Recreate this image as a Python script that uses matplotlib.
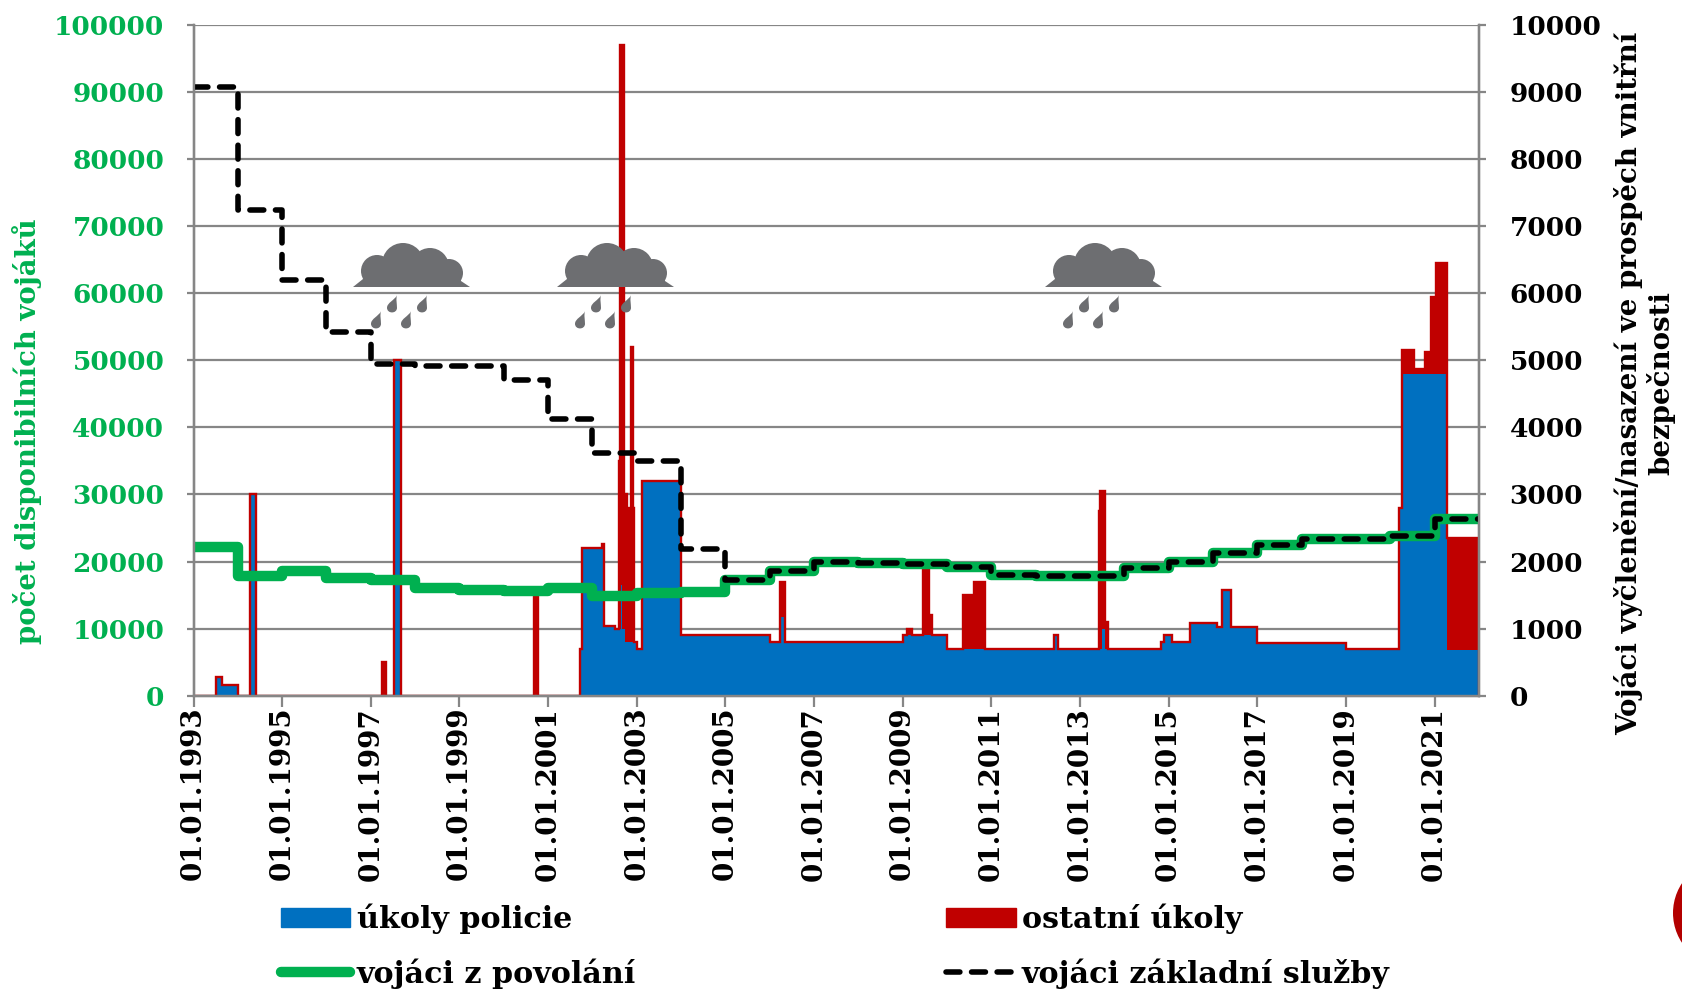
import numpy as np
import matplotlib
matplotlib.use('Agg')
import matplotlib.pyplot as plt
from matplotlib.patches import Ellipse, PathPatch, Rectangle, Polygon
from matplotlib.path import Path
from matplotlib.transforms import Affine2D

# Deployed soldiers (right axis), step edges in years
police_edges = [1993, 1993.5, 1993.64, 1994, 1994.28, 1994.41, 1997.53, 1997.69, 2001.72, 2001.76,
                2002.25, 2002.51, 2002.64, 2002.67, 2002.74, 2003.0, 2003.12, 2004.0, 2006.0, 2006.24,
                2006.35, 2009.0, 2010.0, 2012.42, 2012.51, 2013.49, 2013.56, 2014.83, 2014.9, 2015.08,
                2015.48, 2016.08, 2016.21, 2016.4, 2017, 2019, 2020.2, 2020.26, 2021.27, 2022]
police_values = [0, 280, 160, 0, 3000, 0, 5000, 0, 700, 2200,
                 1040, 1000, 1650, 1000, 800, 700, 3200, 900, 800, 1180,
                 800, 900, 700, 900, 700, 1000, 700, 800, 900, 800,
                 1080, 1030, 1580, 1030, 780, 700, 2800, 4800, 680]

# Top of the stack: police tasks + other tasks
total_edges = [1993, 1993.5, 1993.64, 1994, 1994.28, 1994.41, 1997.26, 1997.35, 1997.53, 1997.69,
               2000.69, 2000.78, 2001.72, 2001.76, 2002.21, 2002.27, 2002.51, 2002.6, 2002.63, 2002.71, 2002.77,
               2002.87, 2002.92, 2002.94, 2003.0, 2003.12, 2004.0, 2006.0, 2006.24, 2006.35, 2009.0,
               2009.1, 2009.2, 2009.46, 2009.6, 2009.67, 2010.0, 2010.37, 2010.6, 2010.85, 2012.42,
               2012.51, 2013.43, 2013.46, 2013.56, 2013.62, 2014.83, 2014.9, 2015.08, 2015.48, 2016.08,
               2016.21, 2016.4, 2017, 2019, 2020.2, 2020.26, 2020.53, 2020.78, 2020.91, 2021.02,
               2021.27, 2022]
total_values = [0, 280, 160, 0, 3000, 0, 500, 0, 5000, 0,
                1570, 0, 700, 2200, 2260, 1040, 1000, 3500, 9700, 3000, 2800,
                5200, 2800, 800, 700, 3200, 900, 800, 1700, 800, 900,
                1000, 900, 1900, 1200, 900, 700, 1500, 1700, 700, 900,
                700, 2750, 3050, 1100, 700, 800, 900, 800, 1080, 1030,
                1580, 1030, 780, 700, 2800, 5150, 4870, 5120, 5950, 6450,
                2350]

# Available soldiers (left axis), one value per year from 1993
years = list(range(1993, 2023))
professional = [22100, 17800, 18600, 17500, 17200, 16000, 15700, 15600, 16100, 14800,
                15300, 15500, 17300, 18600, 20000, 19800, 19700, 19200, 18000, 17800,
                17800, 19000, 20000, 21300, 22500, 23400, 23400, 23800, 26300]
conscripts = [9080, 7240, 6200, 5430, 4950, 4920, 4920, 4700, 4130, 3620,
              3500, 2190, 1730, 1860, 2000, 1980, 1970, 1920, 1800, 1780,
              1780, 1900, 2000, 2130, 2250, 2340, 2340, 2380, 2630]

tick_years = list(range(1993, 2022, 2))
tick_labels = ['01.01.%d' % y for y in tick_years]

BLUE = '#0070c0'
RED = '#c00000'
GREEN = '#00b050'
GRAY = '#868686'
CLOUD = '#6d6e71'
W, H = 1682, 990

plt.rcParams['font.family'] = ['DejaVu Serif']
plt.rcParams['font.weight'] = 'bold'
plt.rcParams['font.size'] = 19

fig = plt.figure(figsize=(W / 100, H / 100), dpi=100)
rect = [193.5 / W, 1 - 695.7 / H, (1479 - 193.5) / W, (695.7 - 25) / H]

# bottom axes carries the grid and the areas, left one the green line, third one the dashes
ax_right = fig.add_axes(rect)
ax_left = ax_right.twinx()
ax_dash = ax_right.twinx()

ax_right.stairs(total_values, total_edges, fill=True, color=RED, baseline=0, zorder=2)
ax_right.stairs(police_values, police_edges, fill=True, color=BLUE, baseline=0, zorder=3)
ax_right.stairs(total_values, total_edges, fill=False, color=RED, baseline=0, linewidth=1.7, zorder=4)
ax_right.yaxis.grid(True, color=GRAY, linewidth=1.6, zorder=1)
ax_right.set_axisbelow(True)

green_line, = ax_left.step(years, professional + professional[-1:], where='post', color=GREEN,
                           linewidth=7.5, solid_joinstyle='round', solid_capstyle='round')
dash_line, = ax_dash.step(years, conscripts + conscripts[-1:], where='post', color='black',
                          linewidth=4, linestyle=(0, (2.5, 2.1)), dash_capstyle='round',
                          dash_joinstyle='round')

for a in (ax_right, ax_left, ax_dash):
    a.set_xlim(1993, 2022)
    a.patch.set_visible(False)
    for s in a.spines.values():
        s.set_color(GRAY)
        s.set_linewidth(1.6)
    a.spines['top'].set_visible(False)

ax_right.set_ylim(0, 10000)
ax_left.set_ylim(0, 100000)
ax_dash.set_ylim(0, 10000)

ax_left.yaxis.tick_left()
ax_left.yaxis.set_label_position('left')
ax_left.set_yticks(np.arange(0, 100001, 10000))
ax_left.tick_params(axis='y', colors=GRAY, labelcolor=GREEN, length=5, width=1.6, pad=16)
ax_left.tick_params(axis='x', length=0, labelbottom=False)

ax_right.yaxis.tick_right()
ax_right.set_yticks(np.arange(0, 10001, 1000))
ax_right.tick_params(axis='y', colors=GRAY, labelcolor='black', length=5, width=1.6, pad=17)
ax_right.set_xticks(tick_years)
ax_right.set_xticklabels(tick_labels, rotation=90, fontsize=20)
ax_right.tick_params(axis='x', colors=GRAY, labelcolor='black', length=8, width=1.6, pad=0)

ax_dash.set_yticks([])
ax_dash.tick_params(axis='x', length=0, labelbottom=False)

fig.text(27 / W, 1 - 431 / H, 'počet disponibilních vojáků', color=GREEN, rotation=90,
         ha='center', va='center', fontsize=19.8)
fig.text(1645 / W, 1 - 383 / H, 'Vojáci vyčlenění/nasazení ve prospěch vnitřní\nbezpečnosti',
         color='black', rotation=90, ha='center', va='center', multialignment='center',
         linespacing=1.15, fontsize=19.9)

# Overlay in figure pixels for the decoration
over = fig.add_axes([0, 0, 1, 1], zorder=10)
over.set_xlim(0, W)
over.set_ylim(H, 0)
over.axis('off')

# shapes in px relative to the left end of the cloud base
cloud_bumps = [(50, -23, 21), (77, -20, 19), (24, -16, 16), (96, -14, 14)]
drop_spots = [(39, 17), (69, 17), (23, 33), (53, 33)]
drop_path = Path([(4, -7), (2, -3), (-4, -1), (-4, 3), (-4, 8), (4, 8), (4, 3), (4, 0), (3, -4), (4, -7)],
                 [Path.MOVETO] + [Path.CURVE4] * 9)


def draw_cloud(x0, y0):
    over.add_patch(Polygon([(x0, y0), (x0 + 117, y0), (x0 + 105, y0 - 8), (x0 + 10, y0 - 8)],
                           color=CLOUD, lw=0))
    over.add_patch(Rectangle((x0 + 10, y0 - 15), 98, 15, color=CLOUD, lw=0))
    over.add_patch(Rectangle((x0 + 24, y0 - 24), 72, 24, color=CLOUD, lw=0))
    for dx, dy, r in cloud_bumps:
        over.add_patch(Ellipse((x0 + dx, y0 + dy), 2 * r, 2 * r, color=CLOUD, lw=0))
    for dx, dy in drop_spots:
        t = Affine2D().scale(1.25).translate(x0 + dx, y0 + dy) + over.transData
        over.add_patch(PathPatch(drop_path, facecolor=CLOUD, lw=0, transform=t))


for cx in (353, 557, 1045):
    draw_cloud(cx, 287)

over.add_patch(Ellipse((1727, 913), 108, 108, color='#b30000', lw=0))

handles = [Rectangle((0, 0), 1, 1, color=BLUE), green_line, Rectangle((0, 0), 1, 1, color=RED), dash_line]
labels = ['úkoly policie', 'vojáci z povolání', 'ostatní úkoly', 'vojáci základní služby']
fig.legend(handles, labels, ncol=2, loc='upper left', bbox_to_anchor=(281 / W, 1 - 904 / H),
           bbox_transform=fig.transFigure, frameon=False, fontsize=21.7, handlelength=2.3, handleheight=0.6,
           handletextpad=0.21, columnspacing=10.3, labelspacing=0.78, borderaxespad=0, borderpad=0)

fig.savefig('out.png', dpi=100)
